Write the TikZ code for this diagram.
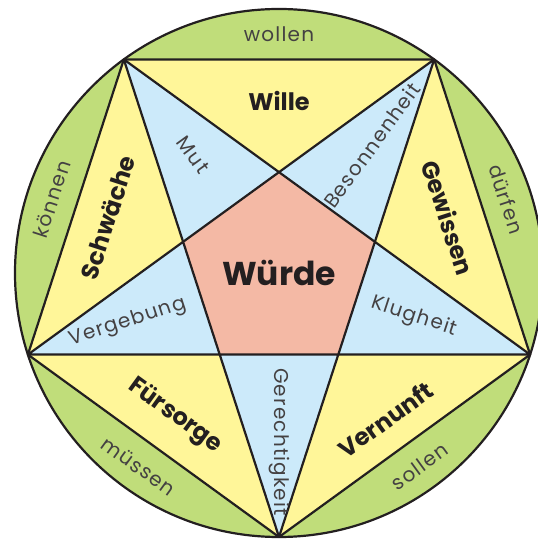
\documentclass[tikz,border=0pt]{standalone}
\usepackage{fontspec}
\setmainfont{Poppins}
\newfontfamily\lightfont{Poppins}[LetterSpace=6]
\usepackage{xcolor}
\definecolor{ringgreen}{RGB}{192,221,122}
\definecolor{pentyellow}{RGB}{255,246,153}
\definecolor{starblue}{RGB}{204,234,250}
\definecolor{coresalmon}{RGB}{244,185,165}
\definecolor{inkline}{RGB}{35,31,32}

\begin{document}
\begin{tikzpicture}[x=0.5pt, y=0.5pt, inner sep=0pt,
    edge/.style={draw=inkline, line width=1.1pt, line join=round},
    ring/.style={font=\lightfont\fontsize{10}{11}\selectfont, text=inkline!85},
    virtue/.style={font=\lightfont\fontsize{10}{11}\selectfont, text=inkline!85},
    pillar/.style={font=\bfseries\fontsize{12}{14}\selectfont, text=inkline},
    core/.style={font=\bfseries\fontsize{16.5}{19}\selectfont, text=inkline}
  ]
  \useasboundingbox (-279,-266) rectangle (258,273);
  \def\R{264}
  \def\r{101}

  % outer corners and inner corners
  \foreach \a/\i in {126/1, 54/2, -18/3, -90/4, -162/5}{
    \coordinate (o\i) at (\a:\R);
  }
  \foreach \a/\i in {90/1, 18/2, -54/3, -126/4, 162/5}{
    \coordinate (n\i) at (\a:\r);
  }
  \coordinate (c) at (0,0);

  % areas
  \fill[ringgreen] (c) circle (\R);
  \fill[pentyellow] (o1) -- (o2) -- (o3) -- (o4) -- (o5) -- cycle;
  \fill[starblue] (o1) -- (n1) -- (o2) -- (n2) -- (o3) -- (n3)
                  -- (o4) -- (n4) -- (o5) -- (n5) -- cycle;
  \fill[coresalmon] (n1) -- (n2) -- (n3) -- (n4) -- (n5) -- cycle;

  % lines
  \draw[edge] (c) circle (\R);
  \draw[edge] (o1) -- (o2) -- (o3) -- (o4) -- (o5) -- cycle;
  \draw[edge] (o1) -- (o3) -- (o5) -- (o2) -- (o4) -- cycle;

  % labels
  \foreach \a/\rot/\name/\txt in {90/0/wollen/wollen, 18/-72/duerfen/dürfen,
      -54/36/sollen/sollen, -126/-36/muessen/müssen, 162/72/koennen/können}{
    \node[ring, rotate=\rot] (\name) at (\a:239) {\txt};
  }
  \foreach \a/\d/\rot/\name/\txt in {90/172/0/wille/Wille, 18/178/-72/gewissen/Gewissen,
      -54/181/36/vernunft/Vernunft, -126/177/-36/fuersorge/Fürsorge,
      162/180/72/schwaeche/Schwäche}{
    \node[pillar, rotate=\rot] (\name) at (\a:\d) {\txt};
  }
  \foreach \a/\d/\rot/\name/\txt in {126/146/-54/mut/Mut, 54/158/54/besonnen/Besonnenheit,
      -18/142/-18/klug/Klugheit, -90/169/-90/gerecht/Gerechtigkeit,
      -162/159/18/vergeb/Vergebung}{
    \node[virtue, rotate=\rot] (\name) at (\a:\d) {\txt};
  }
  \node[core] (wuerde) at (c) {Würde};
\end{tikzpicture}
\end{document}
